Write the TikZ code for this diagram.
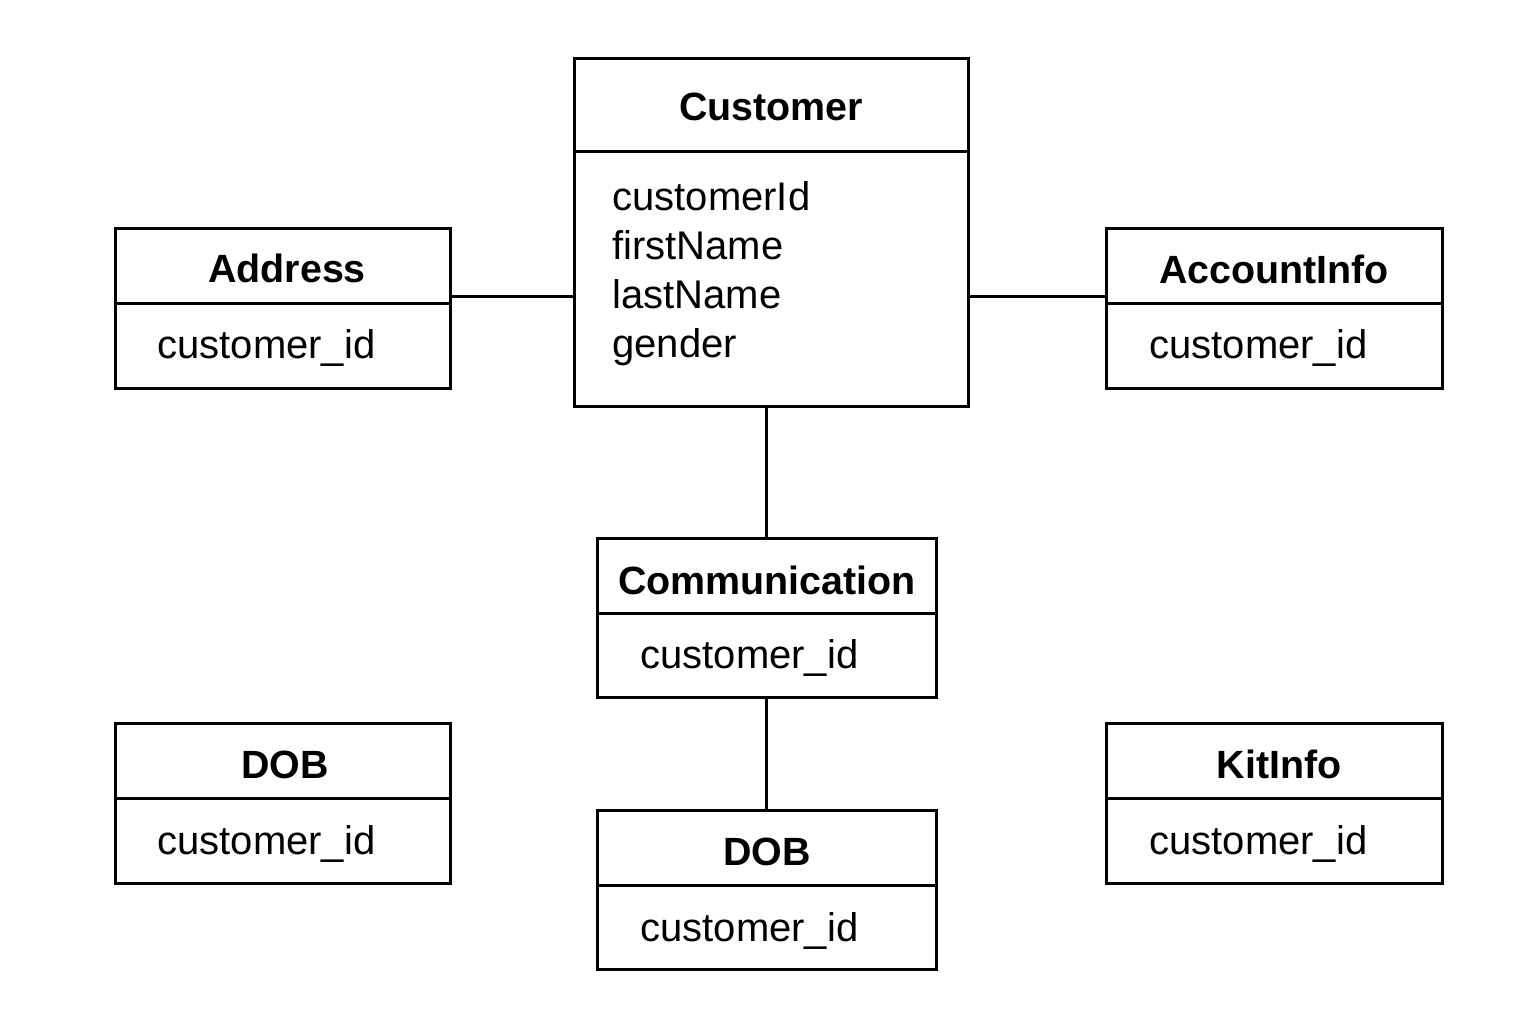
\documentclass[tikz,border=0pt]{standalone}
\usepackage{fontspec}
\setmainfont{Liberation Sans}
\begin{document}
\begin{tikzpicture}[x=0.5pt,y=-0.5pt,
  box/.style={draw=black,line width=1.5pt,inner sep=0pt},
  ttl/.style={font=\fontsize{19.7}{24}\selectfont\bfseries,anchor=base,inner sep=0pt},
  attr/.style={font=\fontsize{20}{24}\selectfont,anchor=base west,inner sep=0pt},
  conn/.style={draw=black,line width=1.5pt}]
\useasboundingbox (0,0) rectangle (1536,1024);
% Customer
\node[box,minimum width=197pt,minimum height=174pt] (cust) at (771,232) {};
\draw[conn] (574,151) -- (968,151);
\node[ttl] (custT) at (771,120) {Customer};
\node[attr] (a1) at (612,210) {customerId};
\node[attr] (a2) at (612,259) {firstName};
\node[attr] (a3) at (612,308) {lastName};
\node[attr] (a4) at (612,357) {gender};
% Address
\node[box,minimum width=167.5pt,minimum height=80pt] (addr) at (282.5,308) {};
\draw[conn] (115,303) -- (450,303);
\node[ttl] (addrT) at (287,282) {Address};
\node[attr] (addrA) at (157,358) {customer\_id};
% AccountInfo
\node[box,minimum width=168pt,minimum height=80pt] (acc) at (1274,308) {};
\draw[conn] (1106,303) -- (1442,303);
\node[ttl] (accT) at (1274,283) {AccountInfo};
\node[attr] (accA) at (1149,358) {customer\_id};
% Communication
\node[box,minimum width=169.5pt,minimum height=79.5pt] (comm) at (766.5,617.5) {};
\draw[conn] (597,613) -- (936,613);
\node[ttl] (commT) at (767,594) {Communication};
\node[attr] (commA) at (640,668) {customer\_id};
% DOB left
\node[box,minimum width=167.5pt,minimum height=80pt] (dob1) at (282.5,803) {};
\draw[conn] (115,798) -- (450,798);
\node[ttl] (dob1T) at (285,778) {DOB};
\node[attr] (dob1A) at (157,854) {customer\_id};
% DOB bottom
\node[box,minimum width=169.5pt,minimum height=79.5pt] (dob2) at (766.5,889.5) {};
\draw[conn] (597,885) -- (936,885);
\node[ttl] (dob2T) at (767,865) {DOB};
\node[attr] (dob2A) at (640,941) {customer\_id};
% KitInfo
\node[box,minimum width=168pt,minimum height=80pt] (kit) at (1274,803) {};
\draw[conn] (1106,798) -- (1442,798);
\node[ttl] (kitT) at (1279,778) {KitInfo};
\node[attr] (kitA) at (1149,854) {customer\_id};
% connectors
\draw[conn] (addr.east |- 0,296) -- (cust.west |- 0,296);
\draw[conn] (cust.east |- 0,296) -- (acc.west |- 0,296);
\draw[conn] (cust.south -| 766,0) -- (comm.north -| 766,0);
\draw[conn] (comm.south -| 766,0) -- (dob2.north -| 766,0);
\end{tikzpicture}
\end{document}
